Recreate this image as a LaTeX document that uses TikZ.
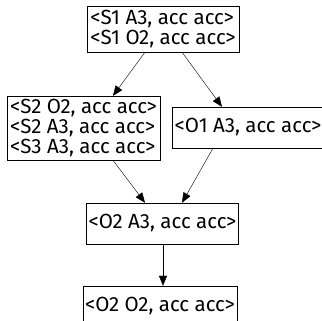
\documentclass[tikz,border=0pt]{standalone}
\usepackage{fontspec}
\setmainfont{Fira Sans}
\usetikzlibrary{arrows.meta, positioning}
\tikzset{
  state/.style = {
    draw,
    rectangle,
    align=left,
    inner sep=2pt,
    minimum height=41pt,
    font=\fontsize{20.5}{20}\selectfont,
  },
  goes/.style = {
    -{Triangle[length=10pt, width=8pt]},
  },
}
\begin{document}
\begin{tikzpicture}[x=1pt, y=-1pt]

\useasboundingbox (0,0) rectangle (322,321);
\clip (0,0) rectangle (322,321);

\node(S1)[state, minimum width=152pt, minimum height=46pt] at (163,29)
  {<S1 A3, acc acc>\\<S1 O2, acc acc>};
\node(S2)[state, minimum width=153pt, minimum height=64pt] at (83.5,128)
  {<S2 O2, acc acc>\\<S2 A3, acc acc>\\<S3 A3, acc acc>};
\node(O1)[state, minimum width=152pt] at (248,127.5) {<O1 A3, acc acc>};
\node(O2A3)[state, minimum width=151pt] at (162.5,223.5) {<O2 A3, acc acc>};
\node(O2O2)[state, minimum width=154pt] at (160,306.5) {<O2 O2, acc acc>};

\draw[goes] (S1.south -| 145,0) -- (S2.north -| 113,0);
\draw[goes] (S1.south -| 182,0) -- (O1.north -| 222,0);
\draw[goes] (S2.south -| 113,0) -- (O2A3.north -| 145,0);
\draw[goes] (O1.south -| 213,0) -- (O2A3.north -| 182,0);
\draw[goes] (O2A3.south -| 163,0) -- (O2O2.north -| 163,0);

\end{tikzpicture}
\end{document}
